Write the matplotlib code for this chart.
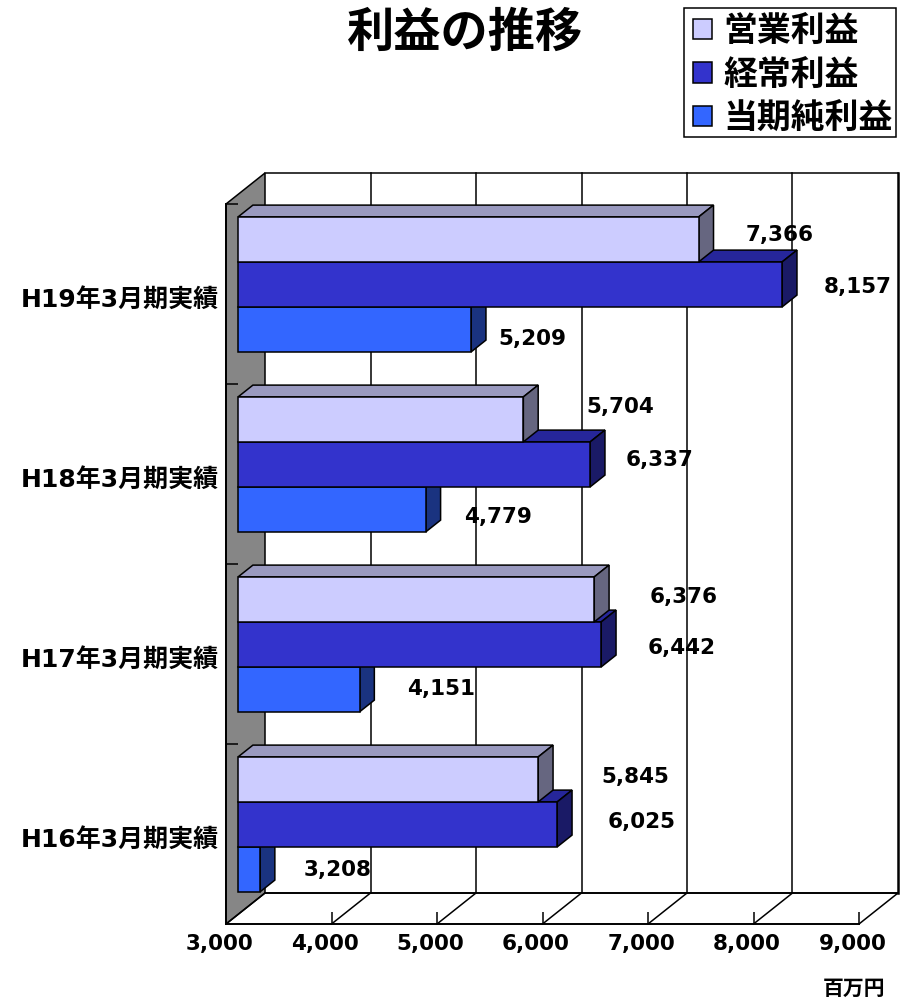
#!/usr/bin/env python3
import matplotlib; matplotlib.use("Agg")
import matplotlib.pyplot as plt
from matplotlib.patches import Polygon, Patch, Rectangle
from matplotlib.transforms import ScaledTranslation

plt.rcParams['font.family'] = ['Noto Sans CJK JP', 'DejaVu Sans']
plt.rcParams['font.weight'] = 'bold'
NUM_FONT = ['DejaVu Sans', 'Noto Sans CJK JP']   # wider digits for numbers

# ---------- data (oldest period first) ----------
periods   = ["H16年3月期実績", "H17年3月期実績", "H18年3月期実績", "H19年3月期実績"]
series    = ["営業利益", "経常利益", "当期純利益"]
operating = [5845, 6376, 5704, 7366]
ordinary  = [6025, 6442, 6337, 8157]
net       = [3208, 4151, 4779, 5209]
xticks    = [3000, 4000, 5000, 6000, 7000, 8000, 9000]

# face / top / side shades per series
FACE = ["#CCCCFF", "#3333CC", "#3366FF"]
TOP  = ["#9999BF", "#26269A", "#264CBF"]
SIDE = ["#666680", "#1A1A66", "#1A3380"]
WALL = "#868686"
LW = 1.1

# value label nudges in pixels from the bar's end
nudge_op  = [(97, 2.5), (89, 2.5), (97, 12.5), (81, 4.5)]
nudge_ord = [(84, 2.5), (80, -3.5), (69, 4.5), (76, -2.5)]
nudge_net = [(78, -0.5), (82, 0.5), (72, -7.5), (61, -9.5)]

W, H = 907, 1001
fig = plt.figure(figsize=(W/100, H/100), dpi=100, facecolor="white")
ax = fig.add_axes([226/W, (H-924)/H, 633/W, 720/H])
ax.set_xlim(3000, 9000)
ax.set_ylim(0, 4)
ax.patch.set_visible(False)

# 3D depth of the box in data units (39 px right, 31 px up)
DX = 39/633*6000
DY = 31/180
GAP = 0.31      # share of the depth in front of the bars
BAR_D = 0.38    # share of the depth taken by the bars
BAR_H = 0.25

def poly(pts, fc, z):
    ax.add_patch(Polygon(pts, closed=True, fc=fc, ec="black", lw=LW, zorder=z, clip_on=False))

def line(xs, ys, z=1, lw=LW):
    ax.plot(xs, ys, color="black", lw=lw, zorder=z, clip_on=False, solid_capstyle="projecting")

# ---------- back wall, floor ----------
poly([(3000, 0), (3000+DX, DY), (3000+DX, 4+DY), (3000, 4)], WALL, 1)
line([3000+DX, 9000+DX], [4+DY, 4+DY])
line([3000+DX, 9000+DX], [DY, DY], lw=1.4)
for t in xticks[1:]:
    line([t+DX, t+DX], [DY, 4+DY], lw=1.8 if t == 9000 else LW)
    line([t, t+DX], [0, DY])
line([3000, 3000+DX], [0, DY])

# ---------- bars, drawn bottom-up so upper bars overlap the tops of lower ones ----------
z = 3
for i in range(len(periods)):
    for s, vals in reversed(list(enumerate([operating, ordinary, net]))):
        v = vals[i]
        x0 = 3000 + GAP*DX
        x1 = v + GAP*DX
        y1 = i + 0.875 + GAP*DY - s*BAR_H
        y0 = y1 - BAR_H
        ddx, ddy = BAR_D*DX, BAR_D*DY
        poly([(x0, y1), (x0+ddx, y1+ddy), (x1+ddx, y1+ddy), (x1, y1)], TOP[s], z)
        poly([(x1, y0), (x1+ddx, y0+ddy), (x1+ddx, y1+ddy), (x1, y1)], SIDE[s], z)
        poly([(x0, y0), (x1, y0), (x1, y1), (x0, y1)], FACE[s], z)
        z += 1

# ---------- value labels ----------
for vals, nudges, s in [(operating, nudge_op, 0), (ordinary, nudge_ord, 1), (net, nudge_net, 2)]:
    for i, (v, n) in enumerate(zip(vals, nudges)):
        ym = i + 0.875 + GAP*DY - s*BAR_H - BAR_H/2
        ax.annotate(f"{v:,}", (v + GAP*DX, ym), xytext=n, textcoords="offset pixels",
                    ha="center", va="center", fontsize=15.5, family=NUM_FONT, zorder=50,
                    annotation_clip=False)

# ---------- axes ----------
for sp in ("top", "right"):
    ax.spines[sp].set_visible(False)
for sp in ("left", "bottom"):
    ax.spines[sp].set_linewidth(1.4)
ax.set_xticks(xticks)
ax.set_xticklabels([f"{t:,}" for t in xticks], fontsize=15.5, family=NUM_FONT)
ax.tick_params(axis="x", direction="in", length=8.5, width=LW, pad=7)
shift = ScaledTranslation(-6.5/100, 0, fig.dpi_scale_trans)
for lab in ax.get_xticklabels():
    lab.set_transform(lab.get_transform() + shift)
ax.set_yticks([1, 2, 3, 4])
ax.set_yticklabels([])
ax.tick_params(axis="y", direction="in", length=8.5, width=LW)
ax.set_yticks([0.5, 1.5, 2.5, 3.5], minor=True)
ax.set_yticklabels(periods, minor=True, fontsize=18, family=NUM_FONT)
ax.tick_params(axis="y", which="minor", length=0, pad=5)
drop = ScaledTranslation(0, -3/100, fig.dpi_scale_trans)
for lab in ax.get_yticklabels(minor=True):
    lab.set_transform(lab.get_transform() + drop)

# ---------- title, unit, legend ----------
fig.text(465.5/W, 1-33/H, "利益の推移", ha="center", va="center", fontsize=34)
fig.text(854/W, 1-988/H, "百万円", ha="center", va="center", fontsize=15)

# legend frame drawn apart so the padding differs across and down
fig.add_artist(Rectangle((684/W, 1-137/H), 212/W, 129/H, transform=fig.transFigure,
                         fc="white", ec="black", lw=LW))
handles = [Patch(fc=FACE[k], ec="black", lw=LW) for k in range(3)]
leg = fig.legend(handles, series, loc="upper left", bbox_to_anchor=(693/W, 1-13/H),
                 fontsize=24.4, frameon=False,
                 handlelength=0.55, handleheight=0.55, handletextpad=0.35,
                 labelspacing=0.25, borderpad=0, borderaxespad=0)

fig.savefig("out.png", dpi=100)
